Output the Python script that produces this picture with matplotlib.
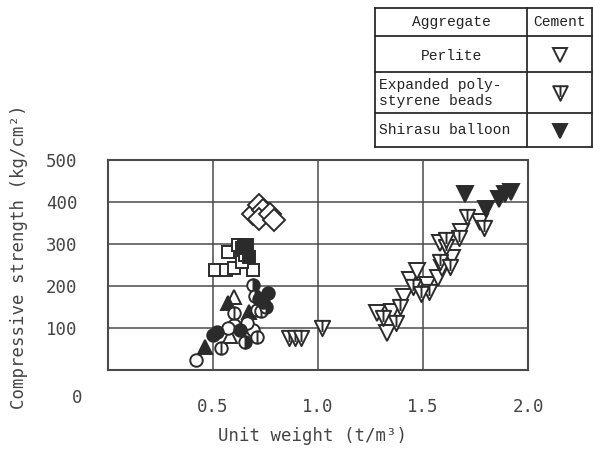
import matplotlib
matplotlib.use("Agg")
import matplotlib.pyplot as plt
from matplotlib.path import Path
from matplotlib.lines import Line2D
import numpy as np

plt.rcParams['font.family'] = ['DejaVu Sans Mono', 'DejaVu Sans']

# ---- data (unit weight t/m3, strength kg/cm2) ----
diamond_x = [0.69, 0.72, 0.74, 0.72, 0.77, 0.79]
diamond_y = [372, 392, 380, 360, 372, 356]

sq_open_x = [0.51, 0.56, 0.60, 0.69, 0.57, 0.64]
sq_open_y = [238, 238, 243, 238, 281, 257]
sq_half_x = [0.62, 0.65]
sq_half_y = [298, 275]
sq_fill_x = [0.66, 0.67, 0.64]
sq_fill_y = [298, 270, 290]

tri_open_x = [0.60, 0.58, 0.66]
tri_open_y = [174, 80, 125]
tri_fill_x = [0.67, 0.46, 0.57]
tri_fill_y = [138, 55, 160]

circ_open_x = [0.60, 0.57, 0.69, 0.42, 0.71, 0.66]
circ_open_y = [107, 100, 95, 24, 143, 112]
circ_fill_x = [0.76, 0.74, 0.63, 0.52, 0.50, 0.72]
circ_fill_y = [183, 162, 95, 90, 83, 170]
circ_half_x = [0.69, 0.75, 0.65, 0.70]
circ_half_y = [202, 150, 67, 176]
circ_line_x = [0.60, 0.71, 0.54, 0.73]
circ_line_y = [136, 79, 52, 140]

perlite_x = [1.28, 1.35, 1.33, 1.44, 1.52, 1.57, 1.58, 1.64, 1.68, 1.77, 1.59, 1.41, 1.47]
perlite_y = [136, 138, 88, 214, 202, 219, 302, 267, 329, 352, 243, 175, 235]
eps_x = [0.86, 0.89, 0.92, 1.02, 1.31, 1.37, 1.39, 1.45, 1.53, 1.58, 1.61, 1.67, 1.71,
         1.79, 1.63, 1.61, 1.49]
eps_y = [76, 76, 76, 100, 125, 112, 150, 198, 186, 257, 293, 314, 364,
         338, 245, 310, 180]
shirasu_x = [1.70, 1.80, 1.86, 1.89, 1.92]
shirasu_y = [419, 383, 407, 419, 424]

x_ticks = [0.5, 1.0, 1.5, 2.0]
x_labels = ["0.5", "1.0", "1.5", "2.0"]
y_ticks = [100, 200, 300, 400, 500]

legend_rows = ["Perlite", "Expanded poly-\nstyrene beads", "Shirasu balloon"]

ink = "#2b2b2b"
grey = "#4a4a4a"
txt = "#444444"

# custom markers: triangle with a stem, circle with a stem
tri_stem = Path([(-1, 1), (1, 1), (0, -1), (-1, 1), (0, 1), (0, -0.45)],
                [Path.MOVETO, Path.LINETO, Path.LINETO, Path.CLOSEPOLY,
                 Path.MOVETO, Path.LINETO])
circ_stem = Path.make_compound_path(Path.unit_circle(), Path([(0, 1), (0, -1)]))

fig = plt.figure(figsize=(5.93, 4.49), dpi=100)
ax = fig.add_axes([108 / 593, 1 - 370 / 449, 420 / 593, 210 / 449])

ax.set_xlim(0, 2.0)
ax.set_ylim(0, 500)
ax.set_xticks(x_ticks)
ax.set_xticklabels(x_labels)
ax.set_yticks(y_ticks)
ax.tick_params(length=0, labelsize=12.5, colors=txt)
ax.tick_params(axis="x", pad=20)
ax.tick_params(axis="y", pad=22)
ax.grid(True, color=grey, lw=1.1)
for s in ax.spines.values():
    s.set_color(grey)
    s.set_linewidth(1.5)

ax.annotate("0", xy=(0, 0), xycoords=("axes fraction", "data"), xytext=(-26, -28),
            textcoords="offset pixels", ha="right", va="center", fontsize=12.5,
            color=txt)

kw = dict(ls="none", mec=ink, mew=1.4, zorder=3)
ax.plot(diamond_x, diamond_y, marker="D", ms=11, mfc="white", **kw)
ax.plot(sq_open_x, sq_open_y, marker="s", ms=9, mfc="white", **kw)
ax.plot(sq_half_x, sq_half_y, marker="s", ms=9, mfc=ink, fillstyle="right",
        markerfacecoloralt="white", **kw)
ax.plot(sq_fill_x, sq_fill_y, marker="s", ms=9, mfc=ink, **kw)
ax.plot(tri_open_x, tri_open_y, marker="^", ms=10, mfc="white", **kw)
ax.plot(tri_fill_x, tri_fill_y, marker="^", ms=10, mfc=ink, **kw)
ax.plot(circ_open_x, circ_open_y, marker="o", ms=9, mfc="white", **kw)
ax.plot(circ_line_x, circ_line_y, marker=circ_stem, ms=9, mfc="white", **kw)
ax.plot(circ_half_x, circ_half_y, marker="o", ms=9, mfc=ink, fillstyle="right",
        markerfacecoloralt="white", **kw)
ax.plot(circ_fill_x, circ_fill_y, marker="o", ms=9, mfc=ink, **kw)
ax.plot(perlite_x, perlite_y, marker="v", ms=11, mfc="white", **kw)
ax.plot(eps_x, eps_y, marker=tri_stem, ms=11, mfc="white", **kw)
ax.plot(shirasu_x, shirasu_y, marker="v", ms=11, mfc=ink, **kw)

ax.set_xlabel("Unit weight (t/m³)", fontsize=12.5, color=txt)
ax.xaxis.set_label_coords(0.486, -0.27)
ax.set_ylabel("Compressive strength (kg/cm²)", fontsize=12.5, color=txt)
ax.yaxis.set_label_coords(-0.19, 0.54)

# ---- legend table drawn in pixel space ----
tab = fig.add_axes([0, 0, 1, 1], facecolor="none")
tab.set_xlim(0, 593)
tab.set_ylim(449, 0)
tab.axis("off")
x0, xm, x1 = 375, 527, 592
rows_y = [8, 36, 72, 113, 147]
for yy in rows_y:
    tab.add_line(Line2D([x0, x1], [yy, yy], color=ink, lw=1.3))
for xx in (x0, xm, x1):
    tab.add_line(Line2D([xx, xx], [rows_y[0], rows_y[-1]], color=ink, lw=1.3))

tfont = dict(family="Liberation Mono", fontsize=10.5, color="#222222")
tab.text((x0 + xm) / 2, 22, "Aggregate", ha="center", va="center", **tfont)
tab.text((xm + x1) / 2, 22, "Cement", ha="center", va="center", **tfont)
tab.text((x0 + xm) / 2, 56, legend_rows[0], ha="center", va="center", **tfont)
tab.text(x0 + 4, 93, legend_rows[1], ha="left", va="center", linespacing=1.15, **tfont)
tab.text(x0 + 4, 130, legend_rows[2], ha="left", va="center", **tfont)
mx = (xm + x1) / 2
tab.plot([mx], [55], marker="v", ms=10.5, mfc="white", **kw)
tab.plot([mx], [93], marker=tri_stem, ms=10.5, mfc="white", **kw)
tab.plot([mx], [131], marker="v", ms=10.5, mfc=ink, **kw)

fig.savefig("out.png", dpi=100)
